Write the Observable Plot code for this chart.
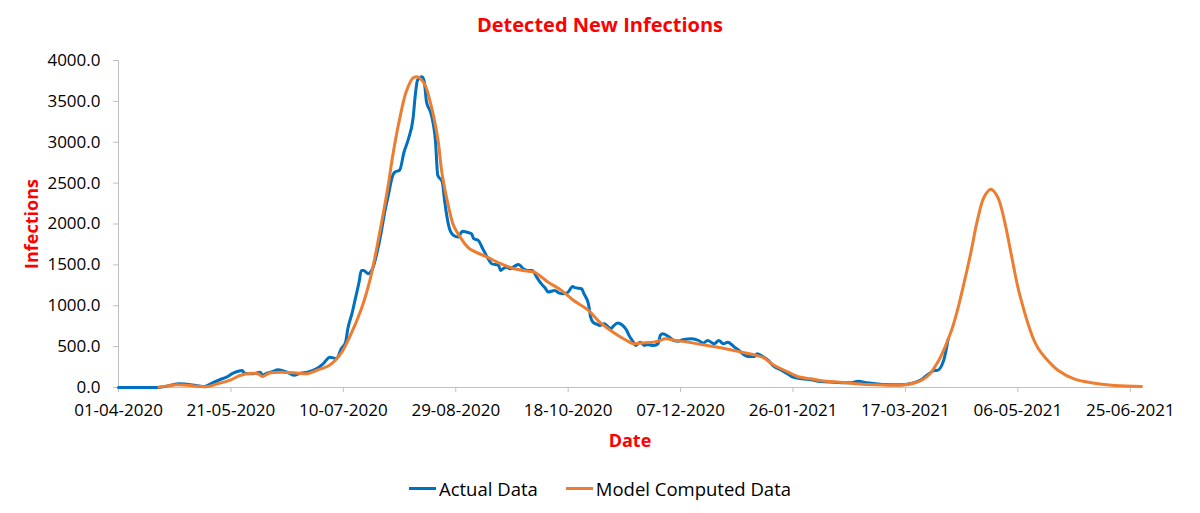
<!DOCTYPE html>
<html>
<head>
<meta charset="utf-8">
<script src="https://cdn.jsdelivr.net/npm/d3@7"></script>
<script src="https://cdn.jsdelivr.net/npm/@observablehq/plot@0.6"></script>
<style>
  body { margin: 0; background: #fff; font-family: "Open Sans", sans-serif; }
  #title { height: 50px; line-height: 50px; text-align: center; color: #ff0000; font-weight: bold; font-size: 20px; }
  #legend { height: 43px; display: flex; justify-content: center; align-items: center; font-size: 18.5px; color: #000; padding-bottom: 7px; box-sizing: border-box; }
  .item { display: flex; align-items: center; margin: 0 14px; }
  .sw { display: inline-block; width: 27px; height: 3px; margin-right: 3px; }
</style>
</head>
<body>
<div id="title">Detected New Infections</div>
<div id="chart"></div>
<div id="legend"></div>
<script>
// Days counted from 01-04-2020
const startLabel = "01-04-2020";
const endDay = 455;

const actualDay = [0, 10, 17, 22, 27, 32, 38, 42, 45, 48, 51, 55, 56, 60, 63, 64, 66, 68, 71, 73, 75, 78, 81, 84, 88, 91, 94, 97, 99, 101, 102, 104, 105, 107, 108, 109, 111, 113, 116, 119, 120, 122, 123, 125, 127, 129, 131, 132, 133, 135, 136, 137, 139, 141, 142, 144, 145, 147, 149, 151, 153, 155, 157, 158, 160, 162, 164, 166, 169, 170, 171, 173, 174, 176, 178, 180, 182, 184, 186, 188, 190, 191, 194, 196, 198, 200, 202, 203, 206, 207, 209, 210, 211, 213, 214, 216, 218, 219, 220, 222, 224, 226, 227, 229, 230, 232, 234, 235, 238, 240, 241, 242, 245, 247, 249, 251, 255, 258, 260, 262, 265, 267, 269, 271, 274, 276, 278, 280, 283, 284, 287, 289, 291, 295, 298, 300, 304, 308, 312, 318, 326, 329, 333, 340, 348, 352, 357, 360, 363, 364, 367, 369];
const actualValue = [0, 0, 0, 20, 45, 35, 10, 60, 95, 126, 175, 208, 175, 168, 187, 150, 175, 190, 216, 205, 187, 150, 175, 187, 229, 290, 371, 355, 470, 555, 718, 922, 1045, 1290, 1432, 1432, 1392, 1453, 1779, 2228, 2351, 2596, 2636, 2657, 2881, 3045, 3290, 3575, 3759, 3800, 3738, 3493, 3351, 3003, 2596, 2514, 2290, 1963, 1861, 1840, 1910, 1900, 1882, 1821, 1800, 1698, 1595, 1514, 1494, 1432, 1453, 1473, 1453, 1481, 1506, 1453, 1432, 1432, 1351, 1270, 1208, 1167, 1188, 1155, 1147, 1167, 1237, 1221, 1208, 1147, 1025, 861, 800, 771, 759, 780, 738, 718, 747, 788, 765, 700, 640, 555, 514, 555, 514, 526, 514, 535, 637, 657, 616, 575, 567, 584, 596, 575, 543, 575, 535, 575, 535, 555, 494, 453, 404, 380, 380, 412, 371, 331, 269, 208, 159, 126, 106, 94, 73, 65, 57, 77, 57, 37, 33, 45, 94, 159, 208, 208, 331, 590];

const modelDay = [18, 22, 26, 32, 36, 40, 44, 50, 54, 59, 62, 64, 67, 72, 80, 84, 88, 94, 99, 103, 108, 112, 116, 120, 122, 125, 128, 131, 133, 136, 139, 142, 144, 147, 149, 152, 156, 164, 170, 176, 183, 185, 191, 197, 202, 209, 214, 220, 226, 229, 232, 238, 241, 243, 248, 253, 260, 268, 275, 282, 287, 291, 298, 302, 308, 312, 318, 326, 333, 340, 348, 354, 358, 361, 363, 365, 367, 369, 371, 373, 376, 379, 382, 385, 388, 391, 394, 397, 400, 403, 405, 407, 409, 412, 418, 425, 434, 443, 455];
const modelValue = [4, 20, 33, 24, 15, 12, 45, 94, 147, 175, 168, 135, 175, 187, 175, 168, 208, 275, 420, 630, 960, 1331, 1870, 2480, 2840, 3280, 3620, 3787, 3800, 3718, 3453, 3045, 2600, 2188, 1984, 1840, 1700, 1595, 1514, 1453, 1420, 1412, 1290, 1188, 1074, 943, 800, 677, 575, 535, 545, 555, 575, 596, 575, 555, 522, 486, 445, 404, 363, 282, 187, 135, 106, 85, 70, 52, 37, 30, 28, 55, 100, 170, 250, 340, 455, 590, 740, 930, 1270, 1637, 2045, 2330, 2425, 2330, 2045, 1637, 1228, 920, 740, 590, 480, 371, 208, 106, 53, 24, 12];

const xTickLabels = ["01-04-2020", "21-05-2020", "10-07-2020", "29-08-2020", "18-10-2020", "07-12-2020", "26-01-2021", "17-03-2021", "06-05-2021", "25-06-2021"];
const yTicks = [0, 500, 1000, 1500, 2000, 2500, 3000, 3500, 4000];

const seriesNames = ["Actual Data", "Model Computed Data"];
const seriesColors = ["#0070C0", "#ED7D31"];

const parse = d3.utcParse("%d-%m-%Y");
const fmt = d3.utcFormat("%d-%m-%Y");
const start = parse(startLabel);
const end = d3.utcDay.offset(start, endDay);

const actual = actualDay.map((d, i) => ({date: d3.utcDay.offset(start, d), value: actualValue[i]}));
const model = modelDay.map((d, i) => ({date: d3.utcDay.offset(start, d), value: modelValue[i]}));
const xTicks = xTickLabels.map(parse);

const axisGray = "#bfbfbf";

const chart = Plot.plot({
  width: 1200,
  height: 420,
  marginLeft: 118,
  marginRight: 59,
  marginTop: 10,
  marginBottom: 83,
  style: {fontFamily: "'Open Sans', sans-serif", background: "#fff", color: "#000", overflow: "visible"},
  x: {type: "utc", domain: [start, end]},
  y: {domain: [0, 4000]},
  marks: [
    Plot.ruleY([0], {stroke: axisGray, strokeWidth: 1}),
    Plot.ruleX([start], {stroke: axisGray, strokeWidth: 1}),
    Plot.axisX({ticks: xTicks, tickFormat: fmt, tickSize: 5, tickPadding: 11, stroke: axisGray, fill: "#000", fontSize: 17, label: null}),
    Plot.axisY({ticks: yTicks, tickFormat: d3.format(".1f"), tickSize: 5, tickPadding: 13, stroke: axisGray, fill: "#000", fontSize: 17, label: null}),
    Plot.line(actual, {x: "date", y: "value", stroke: seriesColors[0], strokeWidth: 3, curve: "monotone-x"}),
    Plot.line(model, {x: "date", y: "value", stroke: seriesColors[1], strokeWidth: 3, curve: "catmull-rom"}),
    Plot.text(["Infections"], {frameAnchor: "left", dx: -86, rotate: -90, textAnchor: "middle", lineAnchor: "middle", fill: "#ff0000", fontWeight: "bold", fontSize: 18}),
    Plot.text(["Date"], {frameAnchor: "bottom", dy: 54, textAnchor: "middle", lineAnchor: "middle", fill: "#ff0000", fontWeight: "bold", fontSize: 18})
  ]
});
document.getElementById("chart").appendChild(chart);

const legend = document.getElementById("legend");
seriesNames.forEach((name, i) => {
  const item = document.createElement("div");
  item.className = "item";
  const sw = document.createElement("span");
  sw.className = "sw";
  sw.style.background = seriesColors[i];
  const label = document.createElement("span");
  label.textContent = name;
  item.appendChild(sw);
  item.appendChild(label);
  legend.appendChild(item);
});
</script>
</body>
</html>
